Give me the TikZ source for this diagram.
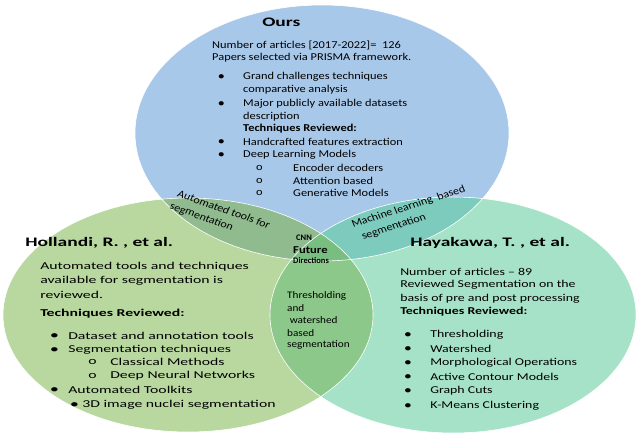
\documentclass[tikz,border=0pt]{standalone}
\usepackage{fontspec}
\setmainfont{Carlito}
\begin{document}
\begin{tikzpicture}[x=1pt,y=-1pt,
 t/.style={anchor=west,inner sep=0pt,font=\fontsize{10.5}{12}\selectfont},
 b/.style={t,font=\fontsize{10.5}{12}\selectfont\bfseries},
 h/.style={anchor=west,inner sep=0pt,xscale=1.5,font=\fontsize{13}{14}\selectfont\bfseries}]
\useasboundingbox (0,0) rectangle (640,436);
\def\Top{(322,133) ellipse [x radius=187,y radius=128]}
\def\Lft{(188,315) ellipse [x radius=185,y radius=117]}
\def\Rgt{(453,315) ellipse [x radius=183,y radius=118]}
\fill[fill={rgb,255:red,168;green,200;blue,234}] \Top;
\fill[fill={rgb,255:red,184;green,216;blue,160}] \Lft;
\fill[fill={rgb,255:red,166;green,226;blue,200}] \Rgt;
\begin{scope}\clip \Top; \fill[fill={rgb,255:red,143;green,187;blue,143}] \Lft; \end{scope}
\begin{scope}\clip \Top; \fill[fill={rgb,255:red,125;green,203;blue,189}] \Rgt; \end{scope}
\begin{scope}\clip \Lft; \fill[fill={rgb,255:red,140;green,200;blue,138}] \Rgt; \end{scope}
\begin{scope}\clip \Top; \clip \Lft; \fill[fill={rgb,255:red,120;green,190;blue,128}] \Rgt; \end{scope}
\draw[white,line width=0.6pt] \Top \Lft \Rgt;
% Ours
\node[h] (ours) at (262,22) {Ours};
\begin{scope}[every node/.append style={xscale=1.18}]
\node[t] (o1) at (212,45) {Number of articles [2017-2022]=\ \ 126};
\node[t] (o2) at (212,58) {Papers selected via PRISMA framework.};
\foreach \y/\s in {77/Grand challenges techniques,104/Major publicly available datasets,142/Handcrafted features extraction,155/Deep Learning Models}
  {\node[t] at (218,\y) {$\bullet$}; \node[t] at (243,\y) {\s};}
\node[t] (o3) at (243,90) {comparative analysis};
\node[t] (o4) at (243,117) {description};
\node[b] (o5) at (243,129) {Techniques Reviewed:};
\foreach \y/\s in {168/Encoder decoders,181/Attention based,193/Generative Models}
  {\node[t] at (256,\y) {o}; \node[t] at (293,\y) {\s};}
\end{scope}
% overlaps
\begin{scope}[every node/.append style={xscale=1.15,font=\fontsize{10}{11}\selectfont}]
\node[t,rotate=-22] (a1) at (178,193) {Automated tools for};
\node[t,rotate=-22] (a2) at (170,206) {segmentation};
\node[t,rotate=20] (m1) at (352,225) {Machine learning\ \ based};
\node[t,rotate=20] (m2) at (362,237) {segmentation};
\end{scope}
\node[b,font=\fontsize{8.5}{10}\selectfont\bfseries] (c1) at (296,238) {CNN};
\node[b,xscale=1.2] (c2) at (293,250) {Future};
\node[b,font=\fontsize{8.5}{10}\selectfont\bfseries] (c3) at (293,261) {Directions};
\foreach \y/\s [count=\i] in {296/Thresholding,308/and,320/\ watershed,333/based,345/segmentation}
  \node[t,xscale=1.12,font=\fontsize{10}{11}\selectfont] (th\i) at (287,\y) {\s};
% Hollandi
\node[h] (hol) at (25,243) {Hollandi, R. , et al.};
\begin{scope}[every node/.append style={xscale=1.5}]
\node[t] at (40,267) {Automated tools and techniques};
\node[t] at (40,281) {available for segmentation is};
\node[t] at (40,295) {reviewed.};
\node[b] at (40,314) {Techniques Reviewed:};
\foreach \y/\s in {336/Dataset and annotation tools,350/Segmentation techniques,390/Automated Toolkits}
  {\node[t] at (50,\y) {$\bullet$}; \node[t] at (68,\y) {\s};}
\foreach \y/\s in {362/Classical Methods,376/Deep Neural Networks}
  {\node[t] at (88,\y) {o}; \node[t] at (110,\y) {\s};}
\node[t] at (70,405) {$\bullet$}; \node[t] at (82,405) {3D image nuclei segmentation};
\end{scope}
% Hayakawa
\node[h] (hay) at (410,243) {Hayakawa, T. , et al.};
\begin{scope}[every node/.append style={xscale=1.32}]
\node[t] at (400,272) {Number of articles -- 89};
\node[t] at (400,285) {Reviewed Segmentation on the};
\node[t] at (400,299) {basis of pre and post processing};
\node[b] at (400,312) {Techniques Reviewed:};
\foreach \y/\s in {335/Thresholding,349/Watershed,363/Morphological Operations,377/Active Contour Models,391/Graph Cuts,406/K-Means Clustering}
  {\node[t] at (404,\y) {$\bullet$}; \node[t] at (430,\y) {\s};}
\end{scope}
\end{tikzpicture}
\end{document}
